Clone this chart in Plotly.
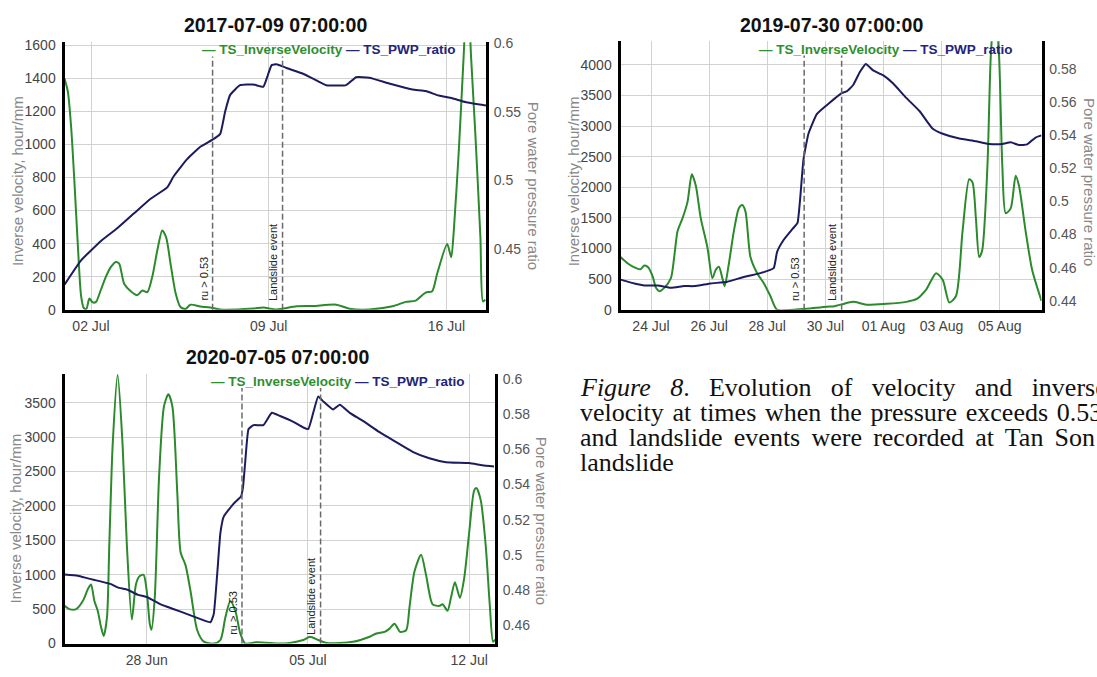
import pandas as pd
import plotly.graph_objects as go

W, H = 1097, 677
GREEN = "#2b8a2b"
NAVY = "#1b1b5e"
GREEN_TXT = "#2f8f2f"
NAVY_TXT = "#24247a"

SERIES_NAMES = ["TS_InverseVelocity", "TS_PWP_ratio"]
Y_LEFT_TITLE = "Inverse velocity, hour/mm"
Y_RIGHT_TITLE = "Pore water pressure ratio"
RU_LABEL = "ru > 0.53"
EVENT_LABEL = "Landslide event"

# ---------------- Panel 1 (times = days after base date 00:00) ----------------
P1_BASE = "2017-07-02"
P1_TITLE = "2017-07-09 07:00:00"
p1_iv_day = [-1.045, -0.913, -0.783, -0.653, -0.522, -0.392, -0.287, -0.183, -0.065, 0.065,
             0.196, 0.392, 0.587, 0.783, 0.979, 1.109, 1.305, 1.566, 1.827, 2.023,
             2.219, 2.414, 2.610, 2.806, 2.962, 3.132, 3.328, 3.524, 3.72, 3.915,
             4.307, 4.698, 5.09, 6.395, 6.786, 7.31, 8.093, 8.745, 9.659, 10.18,
             10.963, 11.876, 12.4, 12.79, 13.18, 13.44, 13.64, 14.03, 14.19, 14.29,
             14.49, 14.68, 14.83, 14.97, 15.14, 15.34, 15.44, 15.53]
p1_iv = [1400, 1321, 1105, 771, 397, 83, 10, 4, 67, 44,
         47, 122, 200, 259, 289, 279, 157, 112, 88, 116,
         106, 200, 358, 480, 436, 279, 103, 16, 4, 30,
         19, 13, 1, 7, 13, 1, 20, 22, 30, 6,
         1, 20, 47, 55, 103, 112, 220, 397, 318, 476,
         967, 1537, 2000, 1537, 1065, 436, 50, 60]
p1_pwp_day = [-1.045, -0.392, 0.392, 1.045, 1.695, 2.349, 3.003, 3.262, 3.786, 4.307,
              4.789, 5.09, 5.286, 5.482, 5.873, 6.394, 6.786, 6.919, 7.115, 7.31,
              7.702, 8.352, 8.876, 9.268, 10.051, 10.443, 10.963, 11.746, 12.659, 13.183,
              13.704, 14.225, 14.75, 15.56]
p1_pwp = [0.424, 0.4417, 0.4559, 0.4653, 0.476, 0.4866, 0.4949, 0.5032, 0.5155, 0.5245,
          0.5297, 0.5339, 0.5504, 0.5623, 0.5694, 0.5699, 0.5682, 0.5741, 0.584, 0.5847,
          0.5819, 0.5777, 0.5729, 0.5694, 0.5694, 0.5752, 0.5748, 0.5706, 0.5663, 0.5651,
          0.5618, 0.5599, 0.5571, 0.5545]
p1_ru_day, p1_event_day = 4.789, 7.545

# ---------------- Panel 2 ----------------
P2_BASE = "2019-07-24"
P2_TITLE = "2019-07-30 07:00:00"
p2_iv_day = [-1.051, -0.797, -0.571, -0.366, -0.229, -0.092, 0.058, 0.171, 0.284, 0.455,
             0.684, 0.797, 0.914, 1.085, 1.256, 1.403, 1.540, 1.711, 1.940, 2.112,
             2.224, 2.337, 2.454, 2.533, 2.680, 2.851, 3.022, 3.138, 3.251, 3.422,
             3.652, 3.877, 4.107, 4.336, 4.904, 5.363, 6.047, 6.273, 6.561, 6.958,
             7.416, 8.101, 8.785, 9.127, 9.470, 9.812, 10.038, 10.267, 10.496, 10.722,
             10.951, 11.064, 11.181, 11.294, 11.397, 11.578, 11.694, 11.835, 11.978, 12.091,
             12.207, 12.379, 12.550, 12.663, 12.892, 13.118, 13.439]
p2_iv = [859, 754, 690, 659, 720, 690, 541, 356, 302, 356,
         515, 859, 1284, 1495, 1761, 2211, 2027, 1495, 1018, 515,
         647, 700, 515, 382, 754, 1284, 1655, 1709, 1602, 859,
         595, 436, 223, 0, 0, 15, 48, 53, 86, 127,
         80, 95, 127, 170, 329, 595, 488, 117, 223, 1284,
         2132, 2080, 1495, 859, 966, 2345, 4148, 5000, 4148, 2345,
         1575, 1655, 2186, 2027, 1284, 647, 143]
p2_pwp_day = [-1.051, -0.571, -0.229, 0.229, 0.684, 1.140, 1.482, 2.053, 2.625, 3.193,
              3.765, 4.220, 4.336, 4.562, 4.904, 5.041, 5.133, 5.246, 5.418, 5.705,
              6.047, 6.561, 6.732, 6.958, 7.187, 7.392, 7.642, 7.984, 8.326, 8.785,
              9.240, 9.695, 10.038, 10.609, 11.181, 11.636, 12.091, 12.379, 12.663, 12.947,
              13.234, 13.439]
p2_pwp = [0.4528, 0.4505, 0.4493, 0.4493, 0.4479, 0.4489, 0.4489, 0.4505, 0.4515, 0.4544,
          0.4567, 0.4597, 0.4694, 0.4767, 0.4841, 0.487, 0.5017, 0.5252, 0.5408, 0.5526,
          0.558, 0.5653, 0.5663, 0.5702, 0.578, 0.5829, 0.579, 0.5761, 0.5712, 0.5624,
          0.5545, 0.5438, 0.5408, 0.5379, 0.5363, 0.5346, 0.5346, 0.5357, 0.534, 0.5344,
          0.5385, 0.5398]
p2_ru_day, p2_event_day = 5.27, 6.56

# ---------------- Panel 3 ----------------
P3_BASE = "2020-06-28"
P3_TITLE = "2020-07-05 07:00:00"
p3_iv_day = [-3.574, -3.358, -3.068, -2.779, -2.537, -2.420, -2.277, -2.131, -1.988, -1.871,
             -1.729, -1.629, -1.482, -1.266, -1.050, -0.864, -0.648, -0.475, -0.333, -0.143,
             0.0, 0.130, 0.203, 0.346, 0.532, 0.748, 0.938, 1.111, 1.327, 1.469,
             1.685, 1.901, 2.191, 2.476, 2.908, 3.198, 3.414, 3.630, 3.846, 4.062,
             4.278, 4.784, 5.791, 6.223, 6.798, 7.087, 7.446, 7.809, 8.958, 9.680,
             9.970, 10.329, 10.545, 10.761, 11.007, 11.266, 11.409, 11.625, 11.914, 12.131,
             12.416, 12.705, 12.848, 13.064, 13.211, 13.384, 13.600, 13.786, 14.002, 14.218,
             14.317, 14.507, 14.723, 14.896, 15.039, 15.125]
p3_iv = [548, 500, 500, 618, 807, 860, 618, 477, 241, 110,
         382, 1419, 2882, 3900, 2882, 1419, 350, 853, 972, 1000,
         760, 287, 200, 665, 2410, 3448, 3620, 3448, 2175, 1326,
         1136, 760, 194, 28, 0, 52, 382, 620, 477, 146,
         0, 20, 0, 10, 52, 99, 52, 10, 25, 99,
         146, 170, 217, 287, 170, 194, 524, 1043, 1290, 995,
         570, 548, 570, 477, 665, 891, 665, 948, 1609, 2222,
         2260, 2080, 1419, 570, 28, 60]
p3_pwp_day = [-3.574, -2.995, -2.563, -2.277, -1.556, -1.266, -0.834, -0.402, 0.030, 0.605,
              1.180, 1.759, 2.334, 2.766, 2.908, 3.055, 3.198, 3.341, 3.773, 4.092,
              4.179, 4.278, 4.421, 4.637, 5.069, 5.432, 5.791, 6.366, 6.798, 7.014,
              7.230, 7.446, 7.662, 8.094, 8.384, 8.816, 9.391, 10.112, 10.834, 11.551,
              12.273, 12.995, 14.002, 14.576, 15.082]
p3_pwp = [0.4889, 0.4882, 0.4867, 0.4858, 0.4834, 0.4816, 0.4802, 0.4775, 0.476, 0.4719,
          0.4692, 0.4664, 0.4636, 0.4618, 0.4664, 0.4885, 0.5125, 0.5217, 0.5291, 0.5331,
          0.5383, 0.553, 0.5714, 0.5736, 0.5736, 0.5806, 0.5788, 0.5755, 0.5723, 0.5714,
          0.5806, 0.5899, 0.5871, 0.5825, 0.5852, 0.5806, 0.576, 0.5696, 0.564, 0.5585,
          0.5548, 0.5526, 0.5521, 0.5508, 0.5501]
p3_ru_day, p3_event_day = 4.135, 7.549

# ---------------- Caption (justified lines: extra word spacing per line) ----------------
CAPTION_FONT = "Liberation Serif"
CAPTION_SIZE = 26
CAPTION_X = 578.5
CAPTION = [
    (389, 12.8, "<i>Figure</i> <i>8</i>. Evolution of velocity and inverse"),
    (414.5, 2.2, "velocity at times when the pressure exceeds 0.53"),
    (440, 4.7, "and landslide events were recorded at Tan Son"),
    (465.5, 0, "landslide"),
]


def ts(base, d):
    return (pd.Timestamp(base) + pd.Timedelta(days=d)).strftime("%Y-%m-%d %H:%M:%S")


def px(x):
    return x / W


def py(y):
    return 1 - y / H


panels = [
    dict(base=P1_BASE, title=P1_TITLE, ivd=p1_iv_day, iv=p1_iv, pd_=p1_pwp_day, pw=p1_pwp,
         ru=p1_ru_day, ev=p1_event_day, box=(64.5, 36, 486, 309.5), xr=(-1.045, 15.56),
         yl=(0, 1620), yr=(0.4058, 0.6007), ldt=200, rdt=0.05, xdt=7,
         tpos=(275, 18), lpos=(458.3, 43.3), ltp=(17, 178), rtp=(533.3, 183)),
    dict(base=P2_BASE, title=P2_TITLE, ivd=p2_iv_day, iv=p2_iv, pd_=p2_pwp_day, pw=p2_pwp,
         ru=p2_ru_day, ev=p2_event_day, box=(620.5, 35, 1041.5, 309.5), xr=(-1.051, 13.439),
         yl=(0, 4386), yr=(0.4347, 0.5966), ldt=500, rdt=0.02, xdt=2,
         tpos=(831, 18), lpos=(1015, 43.3), ltp=(573.3, 178), rtp=(1090, 179)),
    dict(base=P3_BASE, title=P3_TITLE, ivd=p3_iv_day, iv=p3_iv, pd_=p3_pwp_day, pw=p3_pwp,
         ru=p3_ru_day, ev=p3_event_day, box=(64.5, 375, 495, 651), xr=(-3.574, 15.125),
         yl=(0, 3920), yr=(0.4497, 0.6028), ldt=500, rdt=0.02, xdt=7,
         tpos=(277, 358), lpos=(466.7, 383.3), ltp=(15, 523), rtp=(541.7, 525)),
]

fig = go.Figure()
layout = dict(width=W, height=H, margin=dict(l=0, r=0, t=0, b=0), autosize=False,
              paper_bgcolor="white", plot_bgcolor="white", showlegend=False,
              font=dict(family="Liberation Sans, Arial, sans-serif", color="#444"))
annotations = []
shapes = []

GRID = "#d2d2d2"
for i, p in enumerate(panels):
    xn = "x" if i == 0 else f"x{i + 1}"
    yl_n = "y" if i == 0 else f"y{2 * i + 1}"
    yr_n = f"y{2 * i + 2}"
    xkey = "xaxis" if i == 0 else f"xaxis{i + 1}"
    ylkey = "yaxis" if i == 0 else f"yaxis{2 * i + 1}"
    yrkey = f"yaxis{2 * i + 2}"
    x0, y0, x1, y1 = p["box"]

    fig.add_trace(go.Scatter(x=[ts(p["base"], d) for d in p["ivd"]], y=p["iv"],
                             xaxis=xn, yaxis=yl_n, mode="lines", name=SERIES_NAMES[0],
                             line=dict(color=GREEN, width=2, shape="spline", smoothing=0.7)))
    fig.add_trace(go.Scatter(x=[ts(p["base"], d) for d in p["pd_"]], y=p["pw"],
                             xaxis=xn, yaxis=yr_n, mode="lines", name=SERIES_NAMES[1],
                             line=dict(color=NAVY, width=2, shape="spline", smoothing=0.4)))

    layout[xkey] = dict(domain=[px(x0), px(x1)], anchor=yl_n, type="date",
                        range=[ts(p["base"], p["xr"][0]), ts(p["base"], p["xr"][1])],
                        tick0=p["base"], dtick=p["xdt"] * 86400000, tickformat="%d %b",
                        showgrid=True, gridcolor=GRID, gridwidth=1, zeroline=False,
                        showline=True, linecolor="black", linewidth=3, ticks="",
                        tickfont=dict(size=14, color="#444"), ticklabelstandoff=2)
    layout[ylkey] = dict(domain=[py(y1), py(y0)], anchor=xn, range=list(p["yl"]),
                         tick0=0, dtick=p["ldt"], showgrid=True, gridcolor=GRID, gridwidth=1,
                         zeroline=False, showline=True, linecolor="black", linewidth=3,
                         ticks="", tickfont=dict(size=14, color="#444"), ticklabelstandoff=3)
    layout[yrkey] = dict(overlaying=yl_n, side="right", anchor=xn, range=list(p["yr"]),
                         tick0=0, dtick=p["rdt"], showgrid=False, zeroline=False,
                         showline=True, linecolor="black", linewidth=3, ticks="",
                         tickfont=dict(size=14, color="#555"), ticklabelstandoff=2)

    # panel title
    annotations.append(dict(text=f"<b>{p['title']}</b>", xref="paper", yref="paper",
                            x=px(p["tpos"][0]), y=py(p["tpos"][1]), xanchor="center",
                            yanchor="middle", showarrow=False,
                            font=dict(size=19.5, color="#111")))
    # legend
    leg = (f"<b><span style='color:{GREEN_TXT}'>\u2014 {SERIES_NAMES[0]}</span> "
           f"<span style='color:{NAVY_TXT}'>\u2014 {SERIES_NAMES[1]}</span></b>")
    annotations.append(dict(text=leg, xref="paper", yref="paper", x=px(p["lpos"][0]),
                            y=py(p["lpos"][1]), xanchor="right", yanchor="middle",
                            showarrow=False, font=dict(size=13.5)))
    # axis titles
    annotations.append(dict(text=Y_LEFT_TITLE, xref="paper", yref="paper", x=px(p["ltp"][0]),
                            y=py(p["ltp"][1]), xanchor="center", yanchor="middle",
                            textangle=-90, showarrow=False, font=dict(size=15, color="#888")))
    annotations.append(dict(text=Y_RIGHT_TITLE, xref="paper", yref="paper", x=px(p["rtp"][0]),
                            y=py(p["rtp"][1]), xanchor="center", yanchor="middle",
                            textangle=90, showarrow=False, font=dict(size=15, color="#888")))
    # event lines + labels
    for d, lab in ((p["ru"], RU_LABEL), (p["ev"], EVENT_LABEL)):
        xt = ts(p["base"], d)
        shapes.append(dict(type="line", xref=xn, yref=f"{yl_n} domain", x0=xt, x1=xt,
                           y0=0, y1=0.947, line=dict(color="#6a6a6a", width=1.5, dash="6px,3px")))
        annotations.append(dict(text=lab, xref=xn, yref=f"{yl_n} domain", x=xt, y=0.025,
                                xanchor="right", yanchor="bottom", xshift=-1, textangle=-90,
                                showarrow=False, font=dict(size=11, color="#222")))

# caption: one annotation per line, justified with word spacing
for yline, wsp, text in CAPTION:
    styled = f"<span style='word-spacing:{wsp}px'>{text}</span>" if wsp else text
    annotations.append(dict(text=styled, xref="paper", yref="paper", x=px(CAPTION_X),
                            y=py(yline), xanchor="left", yanchor="middle", showarrow=False,
                            borderpad=0,
                            font=dict(family=CAPTION_FONT, size=CAPTION_SIZE, color="#111")))

layout["annotations"] = annotations
layout["shapes"] = shapes
fig.update_layout(**layout)
fig.write_html("out.html")
